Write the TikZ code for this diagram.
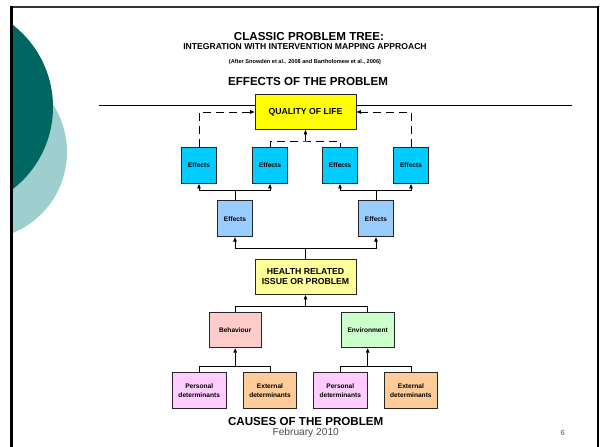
\documentclass[tikz,border=0pt]{standalone}
\usepackage{fontspec}
\setmainfont{Liberation Sans}
\usetikzlibrary{arrows.meta}
\definecolor{tealdark}{RGB}{0,102,97}
\definecolor{teallight}{RGB}{158,206,206}
\definecolor{qolyellow}{RGB}{255,255,0}
\definecolor{issueyellow}{RGB}{255,255,153}
\definecolor{effcyan}{RGB}{0,204,255}
\definecolor{effblue}{RGB}{153,204,255}
\definecolor{behpink}{RGB}{255,204,204}
\definecolor{envgreen}{RGB}{204,255,204}
\definecolor{perslilac}{RGB}{255,204,255}
\definecolor{extorange}{RGB}{255,204,153}
\newcommand\fsz[2]{\fontsize{#1}{#2}\selectfont}
\begin{document}
\begin{tikzpicture}[x=1pt,y=-1pt,
  treebox/.style={draw=black!85, line width=0.9pt, inner sep=0pt, align=center,
    font=\bfseries\fsz{6.6}{8.7}},
  bigbox/.style={treebox, minimum width=101pt, minimum height=35pt, font=\bfseries\fsz{8.7}{10}},
  effbox/.style={treebox, minimum width=35pt, minimum height=36pt},
  causebox/.style={treebox, minimum width=53.5pt, minimum height=36pt},
  midbox/.style={treebox, minimum width=52.5pt, minimum height=35.5pt},
  link/.style={line width=0.8pt, black},
  uparrow/.style={link, -{Triangle[length=4.5pt,width=3.5pt]}},
  dashlink/.style={link, dash pattern=on 8pt off 5pt},
  heading/.style={inner sep=0pt, font=\bfseries\fsz{11.6}{12}}
]
\useasboundingbox (0,0) rectangle (600,447);

% background circles, clipped to the inside of the frame
\begin{scope}
  \clip (13,8) rectangle (597,447);
  \fill[teallight] (-20.75,152) circle (87.75pt);
  \fill[tealdark] (-51,107) circle (104pt);
\end{scope}

% slide frame
\draw[line width=2pt, black!80] (10,7) -- (599,7);
\draw[line width=3pt, black] (11.5,6) -- (11.5,447);
\draw[line width=1.5pt, black] (598,6) -- (598,447);

% titles
\node[heading] (t1) at (309,36.5) {CLASSIC PROBLEM TREE:};
\node[inner sep=0pt, font=\bfseries\fsz{8.6}{9}] (t2) at (305,47) {INTEGRATION WITH INTERVENTION MAPPING APPROACH};
\node[inner sep=0pt, font=\bfseries\fsz{5.6}{6}] (t3) at (305,62.5) {(After Snowden et al.. 2008 and Bartholomew et al., 2006)};
\node[heading] (t4) at (308,82) {EFFECTS OF THE PROBLEM};

% separator line
\coordinate (sepL) at (99,105.7);
\coordinate (sepR) at (572,105.7);
\draw[link] (sepL) -- (sepR);

% boxes
\node[bigbox, fill=qolyellow] (qol) at (305.5,112) {QUALITY OF LIFE};

\node[effbox, fill=effcyan] (e1) at (199,165.5) {Effects};
\node[effbox, fill=effcyan] (e2) at (270,165.5) {Effects};
\node[effbox, fill=effcyan] (e3) at (340,165.5) {Effects};
\node[effbox, fill=effcyan] (e4) at (411,165.5) {Effects};

\node[effbox, fill=effblue] (f1) at (235,218.7) {Effects};
\node[effbox, fill=effblue] (f2) at (376,218.7) {Effects};

\node[bigbox, fill=issueyellow] (hri) at (305.5,277) {HEALTH RELATED\\ISSUE OR PROBLEM};

\node[midbox, fill=behpink] (beh) at (235.2,330) {Behaviour};
\node[midbox, fill=envgreen] (env) at (367.7,330) {Environment};

\node[causebox, fill=perslilac] (p1) at (199.2,390.3) {Personal\\determinants};
\node[causebox, fill=extorange] (x1) at (270,390.3) {External\\determinants};
\node[causebox, fill=perslilac] (p2) at (340.3,390.3) {Personal\\determinants};
\node[causebox, fill=extorange] (x2) at (410.9,390.3) {External\\determinants};

% dashed links into quality of life
\draw[dashlink, -{Triangle[length=4.5pt,width=3.5pt]}] (e1.north) |- (qol.west);
\draw[dashlink, -{Triangle[length=4.5pt,width=3.5pt]}] (e4.north) |- (qol.east);
\coordinate (jq) at (305.5,141);
\draw[dashlink] (e2.north) |- (jq) -| (e3.north);
\draw[link, -{Triangle[length=4.5pt,width=3.5pt]}] (jq) -- (qol.south);

% effects tree
\coordinate (ja) at (235,190);
\coordinate (jb) at (376,190);
\draw[link] (f1.north) -- (ja);
\draw[uparrow] (ja) -| (e1.south);
\draw[uparrow] (ja) -| (e2.south);
\draw[link] (f2.north) -- (jb);
\draw[uparrow] (jb) -| (e3.south);
\draw[uparrow] (jb) -| (e4.south);

\coordinate (jc) at (305.5,248.3);
\draw[link] (hri.north) -- (jc);
\draw[uparrow] (jc) -| (f1.south);
\draw[uparrow] (jc) -| (f2.south);

% causes tree
\coordinate (jd) at (305.5,306.7);
\draw[uparrow] (jd) -- (hri.south);
\draw[link] (jd) -| (beh.north);
\draw[link] (jd) -| (env.north);

\coordinate (je) at (235.2,366);
\draw[uparrow] (je) -- (beh.south);
\draw[link] (je) -| (p1.north);
\draw[link] (je) -| (x1.north);

\coordinate (jf) at (367.7,366);
\draw[uparrow] (jf) -- (env.south);
\draw[link] (jf) -| (p2.north);
\draw[link] (jf) -| (x2.north);

% footer
\node[heading] (causes) at (305.7,421.8) {CAUSES OF THE PROBLEM};
\node[inner sep=0pt, text=black!70, font=\fsz{10.2}{11}] (date) at (305.7,433.2) {February 2010};
\node[inner sep=0pt, text=black!70, font=\fsz{7.5}{8}] (pageno) at (562.7,432.5) {6};
\end{tikzpicture}
\end{document}
